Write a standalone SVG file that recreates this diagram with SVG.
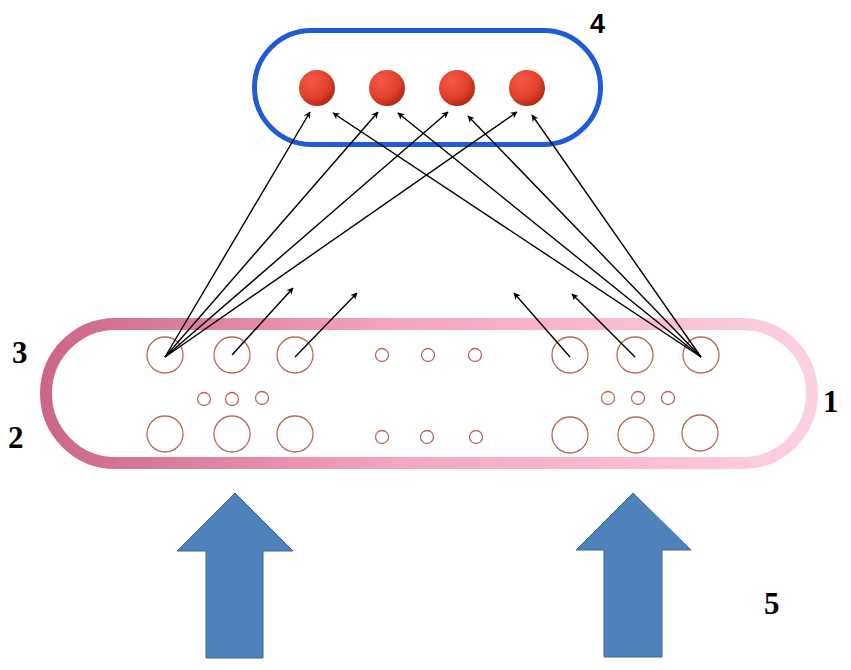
<svg xmlns="http://www.w3.org/2000/svg" width="851" height="670" viewBox="0 0 851 670">
<defs>
<linearGradient id="pinkGrad" x1="0" y1="0" x2="1" y2="0">
<stop offset="0" stop-color="#cc6688"/>
<stop offset="0.45" stop-color="#f4a3c1"/>
<stop offset="1" stop-color="#fcd0e2"/>
</linearGradient>
<radialGradient id="ballGrad" cx="0.35" cy="0.3" r="0.8">
<stop offset="0" stop-color="#f25a45"/>
<stop offset="0.6" stop-color="#e0402c"/>
<stop offset="1" stop-color="#a8200f"/>
</radialGradient>
<marker id="arr" viewBox="0 0 10 10" refX="9" refY="5" markerWidth="7" markerHeight="7" orient="auto" markerUnits="userSpaceOnUse">
<path d="M0,0 L10,5 L0,10 L3,5 Z" fill="#000"/>
</marker>
</defs>
<style>
.pore{fill:none;stroke:#b86a58;stroke-width:1.3}
.ball{fill:url(#ballGrad)}
.lbl{font-family:"Liberation Serif",serif;font-weight:bold;font-size:31px;fill:#000}
.lbls{font-family:"Liberation Sans",sans-serif;font-weight:bold;font-size:27px;fill:#000}
.ln{stroke:#000;stroke-width:1.4;fill:none;marker-end:url(#arr)}
.bigarrow{fill:#4f81bd;stroke:#3b6798;stroke-width:1}
</style>
<rect width="851" height="670" fill="#fff"/>
<g id="membrane">
<rect x="46" y="324" width="766" height="139" rx="69.5" fill="none" stroke="url(#pinkGrad)" stroke-width="12"/>
</g>
<g id="pores">
<circle class="pore" cx="165" cy="355" r="18"/>
<circle class="pore" cx="232" cy="355" r="18"/>
<circle class="pore" cx="295" cy="355" r="18"/>
<circle class="pore" cx="382" cy="355" r="6.5"/>
<circle class="pore" cx="428" cy="355" r="6.5"/>
<circle class="pore" cx="475" cy="355" r="6.5"/>
<circle class="pore" cx="570" cy="355" r="18"/>
<circle class="pore" cx="635" cy="355" r="18"/>
<circle class="pore" cx="701" cy="355" r="18"/>
<circle class="pore" cx="204" cy="399" r="6.5"/>
<circle class="pore" cx="232" cy="399" r="6.5"/>
<circle class="pore" cx="262" cy="398" r="6.5"/>
<circle class="pore" cx="608" cy="398" r="6.5"/>
<circle class="pore" cx="638" cy="398" r="6.5"/>
<circle class="pore" cx="668" cy="398" r="6.5"/>
<circle class="pore" cx="165" cy="434" r="18"/>
<circle class="pore" cx="232" cy="434" r="18"/>
<circle class="pore" cx="295" cy="434" r="18"/>
<circle class="pore" cx="382" cy="437" r="6.5"/>
<circle class="pore" cx="427" cy="437" r="6.5"/>
<circle class="pore" cx="476" cy="437" r="6.5"/>
<circle class="pore" cx="570" cy="435" r="18"/>
<circle class="pore" cx="636" cy="435" r="18"/>
<circle class="pore" cx="700" cy="433" r="18"/>
</g>
<g id="collector">
<rect x="254.5" y="30.5" width="346" height="114" rx="57" fill="none" stroke="#1f5ad8" stroke-width="5"/>
</g>
<g id="balls">
<circle class="ball" cx="317" cy="88" r="18"/>
<circle class="ball" cx="387" cy="88" r="18"/>
<circle class="ball" cx="457" cy="88" r="18"/>
<circle class="ball" cx="527" cy="88" r="18"/>
</g>
<g id="connectors">
<line class="ln" x1="165" y1="357" x2="310" y2="112"/>
<line class="ln" x1="165" y1="357" x2="378" y2="112"/>
<line class="ln" x1="165" y1="357" x2="448" y2="112"/>
<line class="ln" x1="165" y1="357" x2="517" y2="112"/>
<line class="ln" x1="701" y1="357" x2="333" y2="113"/>
<line class="ln" x1="701" y1="357" x2="398" y2="113"/>
<line class="ln" x1="701" y1="357" x2="468" y2="116"/>
<line class="ln" x1="701" y1="357" x2="532" y2="115"/>
<line class="ln" x1="232" y1="355" x2="293" y2="288"/>
<line class="ln" x1="295" y1="357" x2="357" y2="293"/>
<line class="ln" x1="570" y1="357" x2="514" y2="293"/>
<line class="ln" x1="635" y1="357" x2="572" y2="294"/>
</g>
<g id="arrow-left">
<polygon class="bigarrow" points="235,493 293,551 263,551 263,658 206,658 206,551 177,551"/>
</g>
<g id="arrow-right">
<polygon class="bigarrow" points="633,493 691,550 662,550 662,657 604,657 604,550 576,550"/>
</g>
<g id="labels">
<text class="lbl" x="12" y="363">3</text>
<text class="lbl" x="8" y="448">2</text>
<text class="lbl" x="823" y="412">1</text>
<text class="lbls" x="590" y="33">4</text>
<text class="lbl" x="764" y="614">5</text>
</g>
</svg>
